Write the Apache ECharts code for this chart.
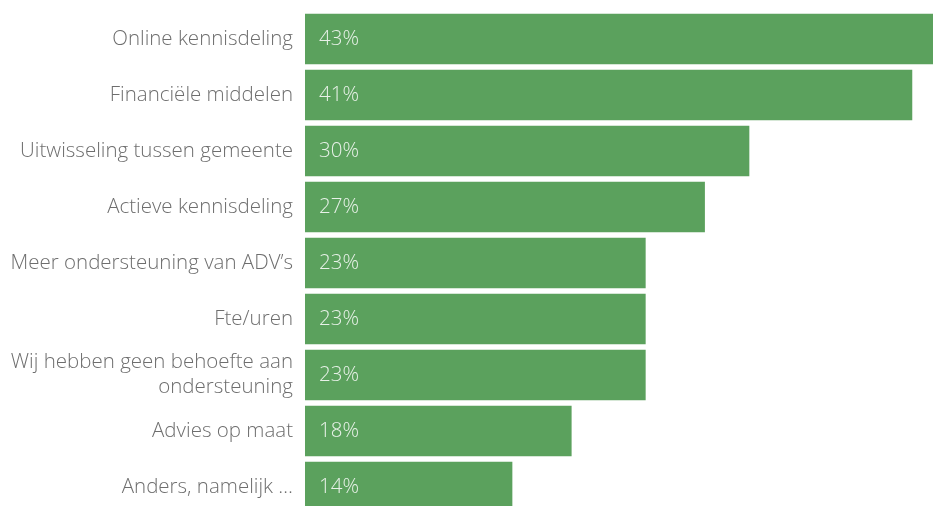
<!DOCTYPE html>
<html>
<head>
<meta charset="utf-8">
<script src="https://cdn.jsdelivr.net/npm/echarts@6/dist/echarts.min.js"></script>
<style>
  html, body { margin: 0; padding: 0; background: #fff; overflow: hidden; }
  /* the canvas is a bit taller than the window, so the last bar runs past the bottom edge */
  #chart { width: 933px; height: 520px; }
</style>
</head>
<body>
<div id="chart"></div>
<script>
// Kinds of support that respondents asked for, share in percent
const categories = [
  'Online kennisdeling',
  'Financiële middelen',
  'Uitwisseling tussen gemeente',
  'Actieve kennisdeling',
  'Meer ondersteuning van ADV’s',
  'Fte/uren',
  'Wij hebben geen behoefte aan\nondersteuning',
  'Advies op maat',
  'Anders, namelijk …'
];
const shares = [43, 41, 30, 27, 23, 23, 23, 18, 14];

const FONT = '"Open Sans", "Noto Sans", sans-serif';

const chart = echarts.init(document.getElementById('chart'), null, { renderer: 'canvas' });
chart.setOption({
  animation: false,
  grid: { left: 305, right: 0, top: 11, height: 504, containLabel: false },
  xAxis: {
    type: 'value',
    min: 0,
    max: 42.4,
    show: false
  },
  yAxis: {
    type: 'category',
    data: categories,
    inverse: true,
    axisLine: { show: false },
    axisTick: { show: false },
    axisLabel: {
      margin: 12,
      color: '#6e6e6e',
      fontFamily: FONT,
      fontWeight: 300,
      fontSize: 20.5,
      lineHeight: 25
    }
  },
  series: [{
    type: 'bar',
    data: shares,
    barCategoryGap: '10%',
    itemStyle: { color: '#5ba15d' },
    label: {
      show: true,
      position: 'insideLeft',
      distance: 14,
      formatter: p => p.value + '%',
      color: '#e8f1e8',
      fontFamily: FONT,
      fontWeight: 300,
      fontSize: 20.5
    }
  }]
});
</script>
</body>
</html>
